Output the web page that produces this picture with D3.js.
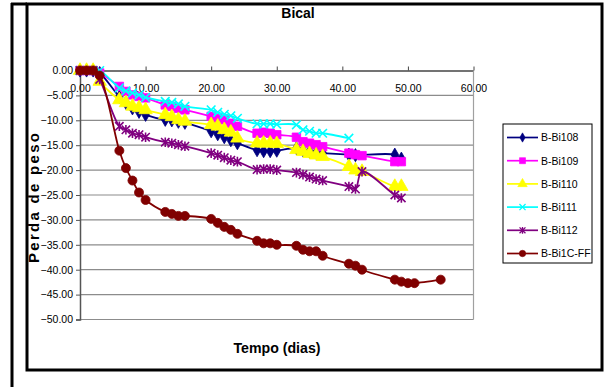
<!DOCTYPE html>
<html>
<head>
<meta charset="utf-8">
<script src="https://cdn.jsdelivr.net/npm/d3@7"></script>
<style>
  body { margin: 0; background: #fff; }
  svg { display: block; font-family: "Liberation Sans", Arial, sans-serif; }
</style>
</head>
<body>
<svg id="chart" width="606" height="387"></svg>
<script>
// values (days, % weight loss)
const seriesNames = ['B-Bi108', 'B-Bi109', 'B-Bi110', 'B-Bi111', 'B-Bi112', 'B-Bi1C-FF'];
const seriesColors = ['#000080', '#ff00ff', '#ffff00', '#00ffff', '#800080', '#800000'];

const daysBi108 = [0, 1, 2, 3, 6, 7, 8, 9, 10, 13, 14, 15, 16, 20, 21, 22, 23, 24, 27, 28, 29, 30, 33, 34, 35, 36, 37, 41, 42, 48, 49];
const lossBi108 = [0, 0, 0, -0.5, -5.3, -6.5, -7.6, -8.3, -8.9, -9.9, -10.0, -10.3, -10.5, -12.2, -12.8, -13.4, -14.0, -14.6, -16.0, -16.2, -16.2, -16.1, -15.6, -16.0, -16.3, -16.5, -16.6, -16.9, -17.0, -16.9, -17.7];

const daysBi109 = [0, 1, 2, 3, 6, 7, 8, 9, 10, 13, 14, 15, 16, 20, 21, 22, 23, 24, 27, 28, 29, 30, 33, 34, 35, 36, 37, 41, 42, 43, 48, 49];
const lossBi109 = [0, 0, 0, -0.5, -3.2, -4.2, -4.9, -5.2, -5.5, -6.9, -7.2, -7.6, -7.9, -9.2, -9.6, -9.9, -10.6, -11.2, -12.6, -12.4, -12.6, -12.9, -13.4, -14.3, -14.6, -14.9, -15.3, -16.6, -16.9, -17.1, -18.3, -18.3];

const daysBi110 = [0, 1, 2, 3, 6, 7, 8, 9, 10, 13, 14, 15, 16, 20, 21, 22, 23, 24, 27, 28, 29, 30, 33, 34, 35, 36, 37, 41, 42, 43, 48, 49];
const lossBi110 = [0, 0, 0, -2.2, -5.9, -6.5, -7.2, -7.5, -7.9, -8.9, -9.3, -9.9, -10.2, -10.9, -11.2, -11.9, -12.4, -13.6, -14.6, -14.6, -14.6, -14.7, -15.9, -16.3, -16.7, -17.0, -17.3, -19.3, -20.0, -20.3, -23.3, -23.3];

const daysBi111 = [0, 1, 2, 3, 6, 7, 8, 9, 10, 13, 14, 15, 16, 20, 21, 22, 23, 24, 27, 28, 29, 30, 33, 34, 35, 36, 37, 41];
const lossBi111 = [0, 0, 0, 0, -3.5, -4.1, -4.5, -4.9, -5.4, -6.2, -6.4, -6.7, -7.2, -7.9, -8.4, -8.8, -9.1, -9.6, -10.7, -10.7, -10.7, -10.8, -10.9, -11.9, -12.2, -12.6, -12.6, -13.6];

const daysBi112 = [0, 1, 2, 3, 6, 7, 8, 9, 10, 13, 14, 15, 16, 20, 21, 22, 23, 24, 27, 28, 29, 30, 33, 34, 35, 36, 37, 41, 42, 43, 48, 49];
const lossBi112 = [0, 0, 0, -1.8, -11.2, -11.9, -12.6, -12.9, -13.4, -14.4, -14.6, -14.9, -15.2, -16.6, -17.0, -17.5, -18.0, -18.3, -19.9, -19.8, -19.8, -20.0, -20.5, -20.9, -21.4, -21.8, -22.1, -23.3, -23.8, -20.3, -25.0, -25.6];

const daysBi1C = [0, 1, 2, 3, 6, 7, 8, 9, 10, 13, 14, 15, 16, 20, 21, 22, 23, 24, 27, 28, 29, 30, 33, 34, 35, 36, 37, 41, 42, 43, 48, 49, 50, 51, 55];
const lossBi1C = [0, 0, 0, -1, -16.1, -19.6, -22.1, -24.5, -26.0, -28.4, -28.8, -29.2, -29.2, -29.8, -30.6, -31.4, -32.0, -32.8, -34.2, -34.7, -34.7, -35.0, -35.2, -36.0, -36.3, -36.3, -37.2, -38.8, -39.2, -40.0, -42.0, -42.4, -42.7, -42.7, -42.0];

const xTicks = [0, 10, 20, 30, 40, 50, 60];
const yTicks = [0, -5, -10, -15, -20, -25, -30, -35, -40, -45, -50];

const allDays = [daysBi108, daysBi109, daysBi110, daysBi111, daysBi112, daysBi1C];
const allLoss = [lossBi108, lossBi109, lossBi110, lossBi111, lossBi112, lossBi1C];

// excel-like marker shapes
const xMark = {
  draw(ctx, size) {
    const r = Math.sqrt(size) / 2;
    ctx.moveTo(-r, -r); ctx.lineTo(r, r);
    ctx.moveTo(-r, r); ctx.lineTo(r, -r);
  }
};
const starMark = {
  draw(ctx, size) {
    const r = Math.sqrt(size) / 2;
    ctx.moveTo(-r, -r); ctx.lineTo(r, r);
    ctx.moveTo(-r, r); ctx.lineTo(r, -r);
    ctx.moveTo(0, -r * 1.15); ctx.lineTo(0, r * 1.15);
  }
};
const markers = [
  { type: d3.symbolDiamond, size: 50, filled: true },
  { type: d3.symbolSquare, size: 72, filled: true },
  { type: d3.symbolTriangle, size: 78, filled: true },
  { type: xMark, size: 74, filled: false },
  { type: starMark, size: 70, filled: false },
  { type: d3.symbolCircle, size: 64, filled: true }
];

const svg = d3.select('#chart');

const x = d3.scaleLinear().domain([0, 60]).range([80, 473.5]);
const y = d3.scaleLinear().domain([-50, 0]).range([319.5, 70.5]);

// frame
svg.append('rect').attr('x', 27).attr('y', 4).attr('width', 575).attr('height', 366)
  .attr('fill', 'none').attr('stroke', '#000').attr('stroke-width', 3);
svg.append('line').attr('x1', 12).attr('x2', 12).attr('y1', 3).attr('y2', 387)
  .attr('stroke', '#000').attr('stroke-width', 3);
svg.append('line').attr('x1', 11).attr('x2', 27).attr('y1', 4).attr('y2', 4)
  .attr('stroke', '#000').attr('stroke-width', 3);

// grid
svg.append('g').selectAll('line').data(yTicks.filter(d => d !== 0)).join('line')
  .attr('x1', x(0)).attr('x2', x(60))
  .attr('y1', d => y(d)).attr('y2', d => y(d))
  .attr('stroke', '#8c8c8c').attr('stroke-width', 1.2);

// y axis
const yAxis = svg.append('g').attr('transform', `translate(${x(0)},0)`)
  .call(d3.axisLeft(y).tickValues(yTicks).tickFormat(d3.format('.2f')).tickSize(4).tickPadding(3));
yAxis.select('.domain').attr('stroke', '#555').attr('stroke-width', 1.5);
yAxis.selectAll('line').attr('stroke', '#555');
yAxis.selectAll('text').attr('font-size', 10.5).attr('font-family', '"Liberation Sans", Arial, sans-serif')
  .attr('fill', '#000');

// x axis at y = 0, ticks pointing up, labels underneath
const xAxis = svg.append('g').attr('transform', `translate(0,${y(0)})`)
  .call(d3.axisBottom(x).tickValues(xTicks).tickFormat(d3.format('.2f')).tickSizeInner(-4).tickSizeOuter(0).tickPadding(14));
xAxis.select('.domain').attr('stroke', '#444').attr('stroke-width', 1.5);
xAxis.selectAll('line').attr('stroke', '#444');
xAxis.selectAll('text').attr('font-size', 10.5).attr('font-family', '"Liberation Sans", Arial, sans-serif')
  .attr('fill', '#000');

// right border of plot area drawn over the labels
svg.append('line').attr('x1', x(60)).attr('x2', x(60)).attr('y1', y(0)).attr('y2', y(-50))
  .attr('stroke', '#a0a0a0').attr('stroke-width', 1.2);

// series
const line = d3.line().curve(d3.curveCatmullRom.alpha(0.5));
seriesNames.forEach((name, i) => {
  const pts = allDays[i].map((d, j) => [x(d), y(allLoss[i][j])]);
  const col = seriesColors[i];
  const g = svg.append('g');
  g.append('path').attr('d', line(pts)).attr('fill', 'none')
    .attr('stroke', col).attr('stroke-width', 1.8);
  const m = markers[i];
  g.selectAll('path.mk').data(pts).join('path').attr('class', 'mk')
    .attr('transform', p => `translate(${p[0]},${p[1]})`)
    .attr('d', d3.symbol().type(m.type).size(m.size))
    .attr('fill', m.filled ? col : 'none')
    .attr('stroke', col).attr('stroke-width', m.filled ? 0.8 : 1.6);
});

// titles
svg.append('text').attr('x', 298).attr('y', 18).attr('text-anchor', 'middle')
  .attr('font-size', 14).attr('font-weight', 'bold').text('Bical');
svg.append('text').attr('x', 277).attr('y', 353).attr('text-anchor', 'middle')
  .attr('font-size', 14).attr('font-weight', 'bold')
  .attr('textLength', 87).attr('lengthAdjust', 'spacingAndGlyphs').text('Tempo (dias)');
svg.append('text').attr('transform', 'translate(39,198) rotate(-90)').attr('text-anchor', 'middle')
  .attr('font-size', 15).attr('font-weight', 'bold')
  .attr('textLength', 130).attr('lengthAdjust', 'spacing').text('Perda de peso');

// legend
svg.append('rect').attr('x', 503).attr('y', 124).attr('width', 89).attr('height', 139)
  .attr('fill', '#fff').attr('stroke', '#000').attr('stroke-width', 1);
const legendY = d3.scalePoint().domain(seriesNames).range([137.5, 253.5]);
seriesNames.forEach((name, i) => {
  const ly = legendY(name);
  const col = seriesColors[i];
  const m = markers[i];
  svg.append('line').attr('x1', 507).attr('x2', 538).attr('y1', ly).attr('y2', ly)
    .attr('stroke', col).attr('stroke-width', 1.7);
  svg.append('path').attr('transform', `translate(522.5,${ly})`)
    .attr('d', d3.symbol().type(m.type).size(m.size * 0.5))
    .attr('fill', m.filled ? col : 'none')
    .attr('stroke', col).attr('stroke-width', m.filled ? 0.6 : 1.3);
  svg.append('text').attr('x', 541).attr('y', ly + 3.8)
    .attr('font-size', 10.5).text(name);
});
</script>
</body>
</html>
